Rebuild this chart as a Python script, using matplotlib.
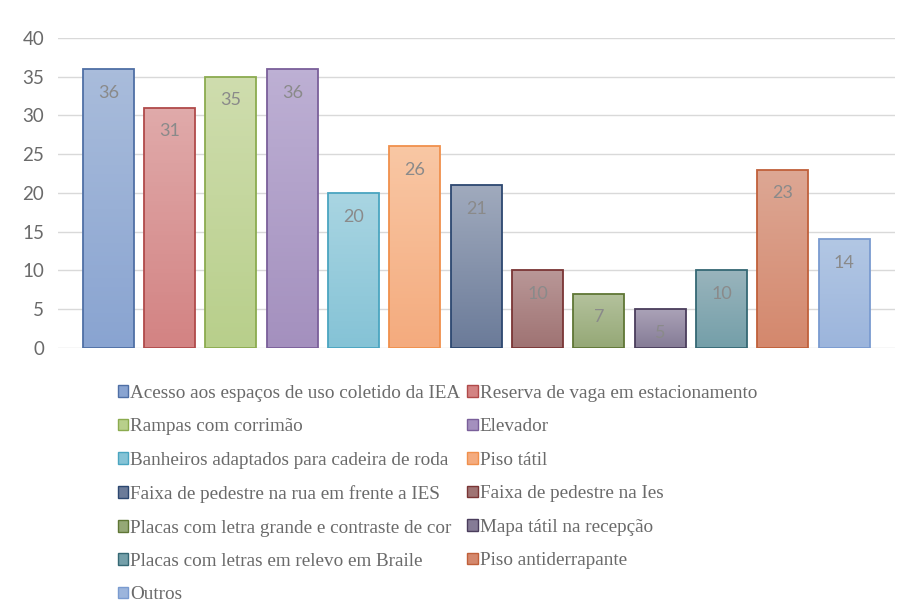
import matplotlib.pyplot as plt
import numpy as np
from matplotlib.colors import LinearSegmentedColormap
from matplotlib.patches import Patch

categories = [
    'Acesso aos espaços de uso coletido da IEA',
    'Reserva de vaga em estacionamento',
    'Rampas com corrimão',
    'Elevador',
    'Banheiros adaptados para cadeira de roda',
    'Piso tátil',
    'Faixa de pedestre na rua em frente a IES',
    'Faixa de pedestre na Ies',
    'Placas com letra grande e contraste de cor',
    'Mapa tátil na recepção',
    'Placas com letras em relevo em Braile',
    'Piso antiderrapante',
    'Outros',
]
values = [36, 31, 35, 36, 20, 26, 21, 10, 7, 5, 10, 23, 14]

# (top colour, bottom colour, edge colour) for each bar
top_colors = ['#a9bcdb', '#e0aaaa', '#cfddae', '#bdb0d4', '#a9d5e2', '#f9c7a4',
              '#a0aabd', '#b99797', '#b4c29d', '#aaa2b7', '#99b4bc', '#dda794', '#b2c7e4']
bottom_colors = ['#89a4d1', '#d38383', '#b8cf8b', '#a490be', '#85c3d6', '#f4ab7e',
                 '#6b7b99', '#9f7373', '#95a876', '#857b96', '#749fa9', '#d4886d', '#9cb5dc']
edge_colors = ['#4f6fa5', '#b04a4a', '#8bab4f', '#7a5f9a', '#4aa5c0', '#f0904c',
               '#2c4770', '#7a3535', '#5f7635', '#4a3d5c', '#356874', '#c0603a', '#7a9bd0']

text_gray = '#6a6a6a'

fig = plt.figure(figsize=(8.99, 6.03), dpi=100)
ax = fig.add_axes([0.0645, 0.423, 0.931, 0.514])

x = np.arange(len(values))
bars = ax.bar(x, values, width=0.83, facecolor='none', edgecolor=edge_colors,
              linewidth=1.3, zorder=3)

# vertical gradient fill, clipped to each bar
for bar, c_top, c_bot in zip(bars, top_colors, bottom_colors):
    cmap = LinearSegmentedColormap.from_list('g', [c_bot, c_top])
    grad = np.linspace(0, 1, 64).reshape(-1, 1)
    x0, w, h = bar.get_x(), bar.get_width(), bar.get_height()
    im = ax.imshow(grad, cmap=cmap, origin='lower', aspect='auto',
                   extent=(x0, x0 + w, 0, h), zorder=2)
    im.set_clip_path(bar)

for xi, v in zip(x, values):
    ax.annotate(str(v), (xi, v), xytext=(0, -17), textcoords='offset points',
                ha='center', va='center', fontsize=13, color='#8a8a8a',
                family='Lato', zorder=4)

ax.set_xlim(-0.82, 12.83)
ax.set_ylim(0, 40)
ax.set_yticks(range(0, 41, 5))
ax.set_xticks([])
ax.grid(axis='y', color='#d9d9d9', linewidth=1.0, zorder=0)
ax.set_axisbelow(True)
for s in ax.spines.values():
    s.set_visible(False)
ax.tick_params(axis='y', length=0, pad=10, labelsize=13.5, labelcolor=text_gray)
for lbl in ax.get_yticklabels():
    lbl.set_family('Lato')

# legend fills column by column, so reorder to read row by row
handles = [Patch(facecolor=(t), edgecolor=e, linewidth=1.0)
           for t, e in zip(bottom_colors, edge_colors)]
order = list(range(0, 13, 2)) + list(range(1, 13, 2))
leg = fig.legend([handles[i] for i in order], [categories[i] for i in order],
                 ncol=2, loc='upper left', bbox_to_anchor=(0.131, 0.362),
                 frameon=False, prop={'family': 'Liberation Serif', 'size': 13.8},
                 handlelength=0.55, handleheight=0.55, handletextpad=0.1,
                 columnspacing=0.35, labelspacing=0.86, borderpad=0, borderaxespad=0)
for t in leg.get_texts():
    t.set_color(text_gray)

fig.savefig('out.png', dpi=100, facecolor='white')
